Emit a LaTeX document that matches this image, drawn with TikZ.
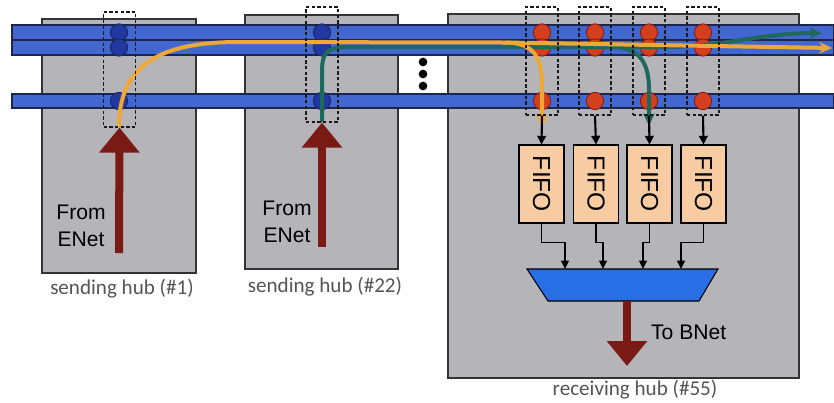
\documentclass[tikz,border=0pt]{standalone}
\usepackage{fontspec}
\setmainfont{Liberation Sans}
\newfontfamily\hubfont{Carlito}
\usetikzlibrary{arrows.meta}

\definecolor{hubgray}{RGB}{180,180,185}
\definecolor{busblue}{RGB}{66,104,208}
\definecolor{busedge}{RGB}{28,36,80}
\definecolor{sdot}{RGB}{32,56,160}
\definecolor{rdot}{RGB}{212,64,30}
\definecolor{enetred}{RGB}{122,26,20}
\definecolor{pathorange}{RGB}{240,168,52}
\definecolor{pathgreen}{RGB}{30,105,92}
\definecolor{fifofill}{RGB}{248,204,162}
\definecolor{muxblue}{RGB}{40,110,228}
\definecolor{labelgray}{RGB}{85,85,85}

\begin{document}
\begin{tikzpicture}[x=0.3mm, y=-0.3mm,
  hub/.style={draw=black!80, fill=hubgray, line width=0.9pt},
  bus/.style={draw=busedge, fill=busblue, line width=1pt},
  sdotn/.style={circle, draw=busedge, fill=sdot, minimum size=5.2mm, inner sep=0pt, line width=0.7pt},
  rdotn/.style={circle, draw=enetred, fill=rdot, minimum size=5.2mm, inner sep=0pt, line width=0.7pt},
  tapbox/.style={draw=black!90, dash pattern=on 1mm off 0.7mm, line width=1pt, minimum width=9.6mm, inner sep=0pt},
  flow/.style={draw=#1, line width=1.2mm, -{Stealth[length=3.8mm,width=3.4mm]}},
  bigar/.style={draw=enetred, line width=2.4mm, -{Triangle[width=11.7mm,length=7.5mm]}},
  tapar/.style={draw=black, line width=1.8pt, -{Triangle[width=2.6mm,length=2.6mm]}},
  wire/.style={draw=black, line width=1.5pt, -{Triangle[width=2.3mm,length=2.5mm]}},
  fifo/.style={draw=black, fill=fifofill, line width=0.9pt, minimum width=13.5mm, minimum height=23.4mm, inner sep=0pt, font=\fontsize{21}{21}\selectfont},
  enet/.style={align=center, font=\fontsize{18}{23}\selectfont},
  hublabel/.style={text=labelgray, font=\hubfont\fontsize{18}{20}\selectfont}]
  \useasboundingbox (0,0) rectangle (834,402);

  % hubs
  \draw[hub] (42,19) rectangle (196,273);
  \draw[hub] (245,15) rectangle (398,269);
  \draw[hub] (448,14) rectangle (799,378);

  % buses
  \draw[bus] (12,25) rectangle (834,40);
  \draw[bus] (12,40) rectangle (834,55);
  \draw[bus] (12,94) rectangle (834,108);

  % sending hub taps
  \node[sdotn] (sAt) at (119,32.5) {};
  \node[sdotn] (sAm) at (119,47.5) {};
  \node[sdotn] (sAb) at (119,101) {};
  \node[sdotn] (sBt) at (322,32.5) {};
  \node[sdotn] (sBm) at (322,47.5) {};
  \node[sdotn] (sBb) at (322,101) {};

  % receiving hub taps
  \foreach \i/\x in {1/542,2/595,3/649,4/703} {
    \node[rdotn] (rt\i) at (\x,32.5) {};
    \node[rdotn] (rm\i) at (\x,47.5) {};
    \node[rdotn] (rb\i) at (\x,101) {};
  }

  % more hubs
  \foreach \y in {62,74,86}
    \fill (423,\y) circle (1.3mm);

  % routes
  \coordinate (gsplit) at (612,47);
  \coordinate (gend) at (649,126);
  \coordinate (gright) at (822,33);
  \coordinate (osplit) at (505,42.5);
  \coordinate (oend) at (542,128);
  \coordinate (oright) at (832,48);
  \coordinate (tapBs) at (322,122);
  \coordinate (tapAs) at (119,127);
  \draw[flow=pathgreen, -] (tapBs) -- (322,72) .. controls (322,50) and (328,47) .. (352,47) -- (gsplit);
  \draw[flow=pathgreen] (gsplit) .. controls (642,47) and (649,66) .. (649,90) -- (gend);
  \draw[flow=pathgreen] (gsplit) -- (665,47) .. controls (725,47) and (760,33) .. (gright);
  \draw[flow=pathorange, -] (tapAs) .. controls (119,72) and (150,42) .. (238,42) -- (osplit);
  \draw[flow=pathorange] (osplit) .. controls (536,42.5) and (542,60) .. (542,86) -- (oend);
  \draw[flow=pathorange] (osplit) -- (oright);

  % tap windows
  \node[tapbox, minimum height=34.5mm] (tapA) at (119.5,69.5) {};
  \node[tapbox, minimum height=34.5mm] (tapB) at (322,64.5) {};
  \foreach \i/\x in {1/542,2/595,3/649,4/703}
    \node[tapbox, minimum height=32.4mm] (tap\i) at (\x,61) {};

  % inputs from ENet
  \coordinate (srcA) at (119,253);
  \coordinate (srcB) at (322,247);
  \draw[bigar] (srcA) -- (tapA.south);
  \draw[bigar] (srcB) -- (tapB.south);
  \node[enet] (feA) at (81,226) {From\\ENet};
  \node[enet] (feB) at (287,222) {From\\ENet};

  % FIFOs
  \foreach \i/\x in {1/541.5,2/596,3/649.5,4/703.5} {
    \node[fifo] (fifo\i) at (\x,184) {\rotatebox{-90}{FIFO}};
    \draw[tapar] (tap\i.south) -- (fifo\i.north);
  }

  % mux
  \draw[draw=black, fill=muxblue, line width=0.9pt] (527,269) -- (718,269) -- (699,301) -- (548,301) -- cycle;
  \foreach \i/\m in {1/565,2/603,3/643,4/681} {
    \coordinate (mx\i) at (\m,269);
    \draw[wire] (fifo\i.south) -- ++(0,19) -| (mx\i);
  }
  \coordinate (muxout) at (627,301);
  \coordinate (bnet) at (627,366);
  \draw[bigar] (muxout) -- (bnet);
  \node[enet, anchor=west] (tobnet) at (647,332) {To BNet};

  % captions
  \node[hublabel] (labA) at (122,289) {sending hub (\#1)};
  \node[hublabel] (labB) at (325,287) {sending hub (\#22)};
  \node[hublabel] (labC) at (635,390) {receiving hub (\#55)};
\end{tikzpicture}
\end{document}
